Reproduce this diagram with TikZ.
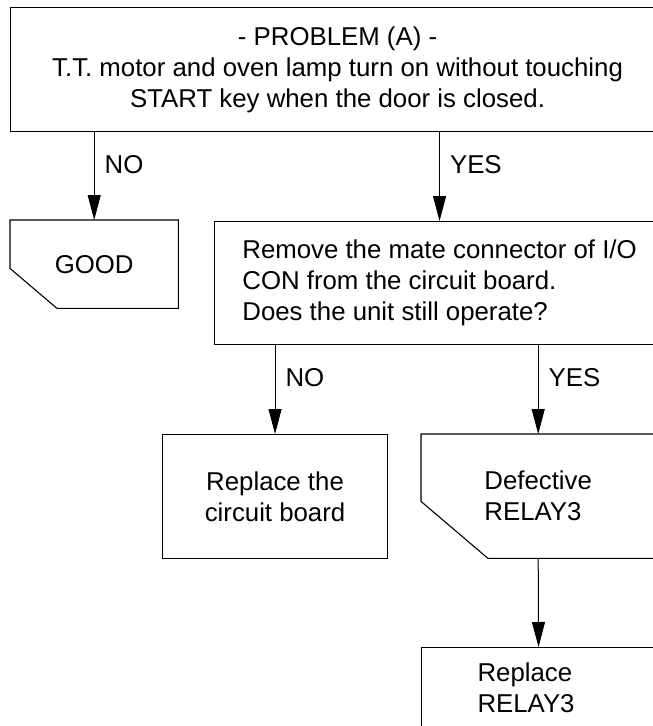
\documentclass[tikz,border=0pt]{standalone}
\usepackage{fontspec}
\setmainfont{Liberation Sans}
\usetikzlibrary{arrows.meta}

\begin{document}
\begin{tikzpicture}[x=1pt, y=-1pt,
    txt/.style={inner sep=0pt, anchor=north west, font=\fontsize{25.8pt}{31pt}\selectfont},
    box/.style={txt, draw, line width=1.1pt},
    flow/.style={line width=1pt, -{Triangle[length=25pt, width=13pt]}},
    lbl/.style={right, inner sep=0pt, xshift=10pt, font=\fontsize{25.8pt}{31pt}\selectfont}]
    \clip (0,0) rectangle (653,726);

    % Problem statement
    \node[box, minimum width=654pt, minimum height=124pt, align=center] (prob) at (10,7)
        {- PROBLEM (A) -\\T.T. motor and oven lamp turn on without touching\\START key when the door is closed.};

    % Branch NO: end
    \node[txt, minimum width=168pt, minimum height=88pt] (good) at (10,220) {GOOD};
    \draw[line width=1.1pt] (good.north west) -- (good.north east) -- (good.south east)
        -- ([xshift=47pt]good.south west) -- ([yshift=40pt]good.south west) -- cycle;

    % Branch YES: check
    \node[box, minimum width=450pt, minimum height=123pt, align=left] (check) at (214,221)
        {Remove the mate connector of I/O\\CON from the circuit board.\\Does the unit still operate?};

    % Results of the check
    \node[box, minimum width=225pt, minimum height=124pt, align=center] (board) at (162,434) {Replace the\\circuit board};
    \node[txt, minimum width=234pt, minimum height=124pt, align=left] (relay) at (421,434) {Defective\\RELAY3};
    \draw[line width=1.1pt] (relay.north west) -- (relay.north east) -- (relay.south east)
        -- ([xshift=67pt]relay.south west) -- ([yshift=57pt]relay.south west) -- cycle;
    \node[box, minimum width=234pt, minimum height=80pt, inner xsep=56pt, text width=122pt, align=left] (swap) at (421,647) {Replace\\RELAY3};

    % Connectors
    \draw[flow] (prob.south -| good.north) -- (good.north) node[lbl, pos=0.37] {NO};
    \draw[flow] (prob.south -| check.north) -- (check.north) node[lbl, pos=0.37] {YES};
    \draw[flow] (check.south -| board.north) -- (board.north) node[lbl, pos=0.37] {NO};
    \draw[flow] (check.south -| relay.north) -- (relay.north) node[lbl, pos=0.37] {YES};
    \draw[flow] (relay.south) -- (swap.north);
\end{tikzpicture}
\end{document}
